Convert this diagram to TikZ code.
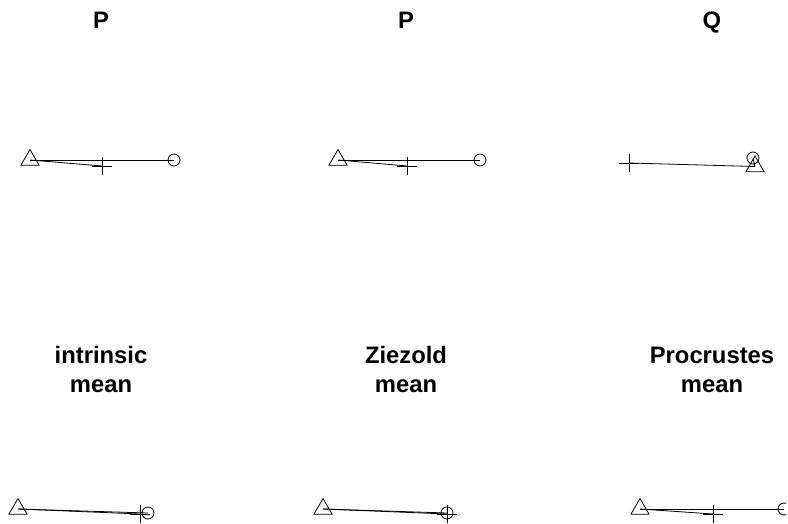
\documentclass[tikz,border=0pt]{standalone}
\usepackage{fontspec}
\setmainfont{Liberation Sans}
\usetikzlibrary{shapes.geometric}
\tikzset{
  plusmark/.pic={\draw[line width=0.8pt] (-10,0)--(10,0) (0,-9)--(0,9);},
}
\begin{document}
\begin{tikzpicture}[x=1pt,y=-1pt,
  circmark/.style={circle,draw,line width=0.8pt,minimum size=12pt,inner sep=0pt},
  trimark/.style={regular polygon,regular polygon sides=3,draw,line width=0.8pt,minimum size=21pt,inner sep=0pt},
  seg/.style={line width=0.8pt},
  ttl/.style={font=\fontsize{23.8}{29}\selectfont\bfseries,align=center,inner sep=0pt}]
\clip (0,0) rectangle (788,524);
% titles
\node[ttl,anchor=base] (tP1) at (101,29) {P};
\node[ttl,anchor=base] (tP2) at (406,29) {P};
\node[ttl,anchor=base] (tQ) at (712,29) {Q};
\node[ttl,anchor=base] (tI) at (101,392) {intrinsic\\mean};
\node[ttl,anchor=base] (tZ) at (406,392) {Ziezold\\mean};
\node[ttl,anchor=base] (tPr) at (712,392) {Procrustes\\mean};
% panel 1
\coordinate (a1) at (30,160);
\coordinate (b1) at (174,160);
\coordinate (c1) at (102,166);
\draw[seg] (a1) -- (b1);
\draw[seg] (a1) -- (c1);
\node[trimark] (A1) at (a1) {};
\node[circmark] (B1) at (b1) {};
\pic (C1) at (c1) {plusmark};
% panel 2
\coordinate (a2) at (338,160);
\coordinate (b2) at (480,160);
\coordinate (c2) at (407,166);
\draw[seg] (a2) -- (b2);
\draw[seg] (a2) -- (c2);
\node[trimark] (A2) at (a2) {};
\node[circmark] (B2) at (b2) {};
\pic (C2) at (c2) {plusmark};
% panel 3
\coordinate (a3) at (755,166.5);
\coordinate (b3) at (753,158);
\coordinate (c3) at (629,163);
\draw[seg] (a3) -- (b3);
\draw[seg] (a3) -- (c3);
\node[trimark] (A3) at (a3) {};
\node[circmark] (B3) at (b3) {};
\pic (C3) at (c3) {plusmark};
% panel 4
\coordinate (a4) at (18,509);
\coordinate (b4) at (148,513);
\coordinate (c4) at (140,514);
\draw[seg] (a4) -- (b4);
\draw[seg] (a4) -- (c4);
\node[trimark] (A4) at (a4) {};
\node[circmark] (B4) at (b4) {};
\pic (C4) at (c4) {plusmark};
% panel 5
\coordinate (a5) at (323,509);
\coordinate (b5) at (447,513);
\coordinate (c5) at (447,514);
\draw[seg] (a5) -- (b5);
\draw[seg] (a5) -- (c5);
\node[trimark] (A5) at (a5) {};
\node[circmark] (B5) at (b5) {};
\pic (C5) at (c5) {plusmark};
% panel 6
\begin{scope}
\clip (600,480) rectangle (786,524);
\coordinate (a6) at (640,509);
\coordinate (b6) at (784,509);
\coordinate (c6) at (713,514);
\draw[seg] (a6) -- (b6);
\draw[seg] (a6) -- (c6);
\node[trimark] (A6) at (a6) {};
\node[circmark] (B6) at (b6) {};
\pic (C6) at (c6) {plusmark};
\end{scope}
\end{tikzpicture}
\end{document}
